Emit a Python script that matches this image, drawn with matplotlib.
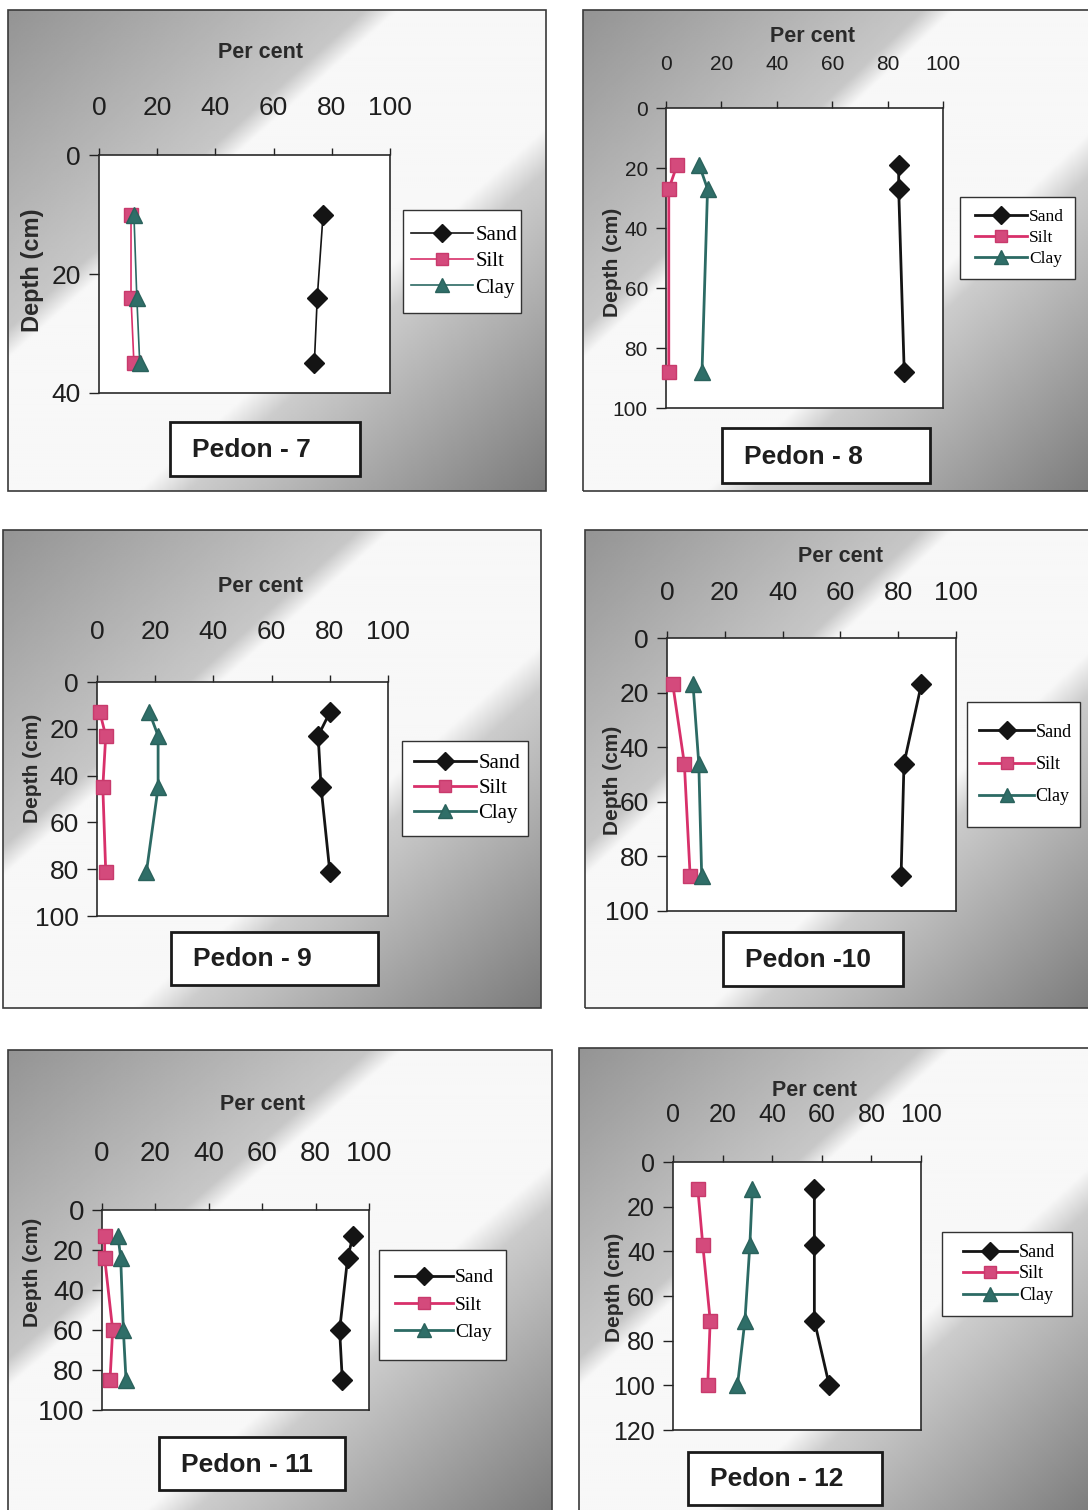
import matplotlib
matplotlib.use("Agg")
import matplotlib.pyplot as plt
import numpy as np
from matplotlib.patches import Rectangle
from matplotlib.lines import Line2D

# ---------------- data ----------------
series_names = ["Sand", "Silt", "Clay"]
x_ticks = [0, 20, 40, 60, 80, 100]

depth_p7 = [10, 24, 35]
sand_p7 = [77, 75, 74]
silt_p7 = [11, 11, 12]
clay_p7 = [12, 13, 14]

depth_p8 = [19, 27, 88]
sand_p8 = [84, 84, 86]
silt_p8 = [4, 1, 1]
clay_p8 = [12, 15, 13]

depth_p9 = [13, 23, 45, 81]
sand_p9 = [80, 76, 77, 80]
silt_p9 = [1, 3, 2, 3]
clay_p9 = [18, 21, 21, 17]

depth_p10 = [17, 46, 87]
sand_p10 = [88, 82, 81]
silt_p10 = [2, 6, 8]
clay_p10 = [9, 11, 12]

depth_p11 = [13, 24, 60, 85]
sand_p11 = [94, 92, 89, 90]
silt_p11 = [1, 1, 4, 3]
clay_p11 = [6, 7, 8, 9]

depth_p12 = [12, 37, 71, 100]
sand_p12 = [57, 57, 57, 63]
silt_p12 = [10, 12, 15, 14]
clay_p12 = [32, 31, 29, 26]

titles = ["Pedon - 7", "Pedon - 8", "Pedon - 9", "Pedon -10", "Pedon - 11", "Pedon - 12"]
depth_max = [40, 100, 100, 100, 100, 120]

# ---------------- layout ----------------
W, H = 1088, 1510
fig = plt.figure(figsize=(W / 100, H / 100), dpi=100)
fig.patch.set_facecolor("white")

SANS = ["Liberation Sans", "DejaVu Sans"]
SERIF = ["Liberation Serif", "DejaVu Serif"]


def frect(x0, y0, x1, y1):
    return [x0 / W, 1 - y1 / H, (x1 - x0) / W, (y1 - y0) / H]


def fpt(x, y):
    return (x / W, 1 - y / H)


panels = [
    dict(data=(depth_p7, sand_p7, silt_p7, clay_p7), frame=(8, 10, 546, 491), plot=(99, 155, 390, 393),
         pct=(260, 52), dep=(33, 270), leg=(403, 210, 521, 313), tbox=(170, 422, 360, 476),
         fs=19, xgap=28, lw=1.2, legfs=15, depfs=17),
    dict(data=(depth_p8, sand_p8, silt_p8, clay_p8), frame=(583, 10, 1095, 491), plot=(666, 108, 943, 408),
         pct=(812, 36), dep=(612, 262), leg=(960, 197, 1075, 279), tbox=(722, 428, 930, 483),
         fs=15, xgap=27, lw=2.0, legfs=12.5, depfs=15),
    dict(data=(depth_p9, sand_p9, silt_p9, clay_p9), frame=(3, 530, 541, 1008), plot=(97, 682, 388, 916),
         pct=(260, 587), dep=(33, 768), leg=(402, 741, 528, 836), tbox=(171, 932, 378, 985),
         fs=19, xgap=31, lw=2.0, legfs=15, depfs=15),
    dict(data=(depth_p10, sand_p10, silt_p10, clay_p10), frame=(585, 530, 1095, 1008), plot=(667, 638, 956, 911),
         pct=(840, 556), dep=(612, 780), leg=(967, 702, 1080, 827), tbox=(723, 932, 903, 986),
         fs=19, xgap=26, lw=2.0, legfs=13, depfs=15),
    dict(data=(depth_p11, sand_p11, silt_p11, clay_p11), frame=(8, 1050, 552, 1515), plot=(102, 1210, 369, 1410),
         pct=(262, 1105), dep=(33, 1272), leg=(379, 1250, 506, 1360), tbox=(159, 1437, 345, 1490),
         fs=20, xgap=36, lw=2.0, legfs=14, depfs=15),
    dict(data=(depth_p12, sand_p12, silt_p12, clay_p12), frame=(579, 1048, 1095, 1515), plot=(673, 1162, 921, 1430),
         pct=(815, 1090), dep=(615, 1287), leg=(942, 1232, 1072, 1316), tbox=(688, 1452, 882, 1505),
         fs=18, xgap=28, lw=2.0, legfs=13, depfs=15),
]

styles = [
    dict(color="#141414", marker="D", ms=10.5, mfc="#141414", mec="#141414"),
    dict(color="#d8306a", marker="s", ms=9.5, mfc="#d44a7c", mec="#c83a6c"),
    dict(color="#2c6a64", marker="^", ms=11.5, mfc="#2f6e68", mec="#2a625c"),
]


def gradient(w, h):
    yy, xx = np.mgrid[0:h, 0:w]
    u = (xx / w + yy / h) / 2.0
    su = [0.0, 0.33, 0.36, 0.62, 0.665, 1.0]
    sg = [0.58, 0.78, 0.97, 0.97, 0.80, 0.48]
    return np.interp(u, su, sg)


px2pt = 0.72

for i, p in enumerate(panels):
    fx0, fy0, fx1, fy1 = p["frame"]
    bg = fig.add_axes(frect(*p["frame"]), zorder=0)
    g = gradient(int((fx1 - fx0) / 2), int((fy1 - fy0) / 2))
    bg.imshow(g, extent=[0, 1, 0, 1], aspect="auto", cmap="gray", vmin=0, vmax=1,
              interpolation="bilinear", origin="upper")
    bg.set_xlim(0, 1)
    bg.set_ylim(0, 1)
    bg.set_axis_off()
    bg.add_patch(Rectangle((0, 0), 1, 1, transform=bg.transAxes, fill=False,
                           ec="#3a3a3a", lw=1.2, clip_on=False))

    ax = fig.add_axes(frect(*p["plot"]), zorder=1)
    ax.set_facecolor("white")
    depth, sand, silt, clay = p["data"]
    for vals, st, nm in zip((sand, silt, clay), styles, series_names):
        ax.plot(vals, depth, color=st["color"], marker=st["marker"], ms=st["ms"],
                mfc=st["mfc"], mec=st["mec"], lw=p["lw"], label=nm, clip_on=False, zorder=3)
    ax.set_xlim(0, 100)
    ax.set_ylim(depth_max[i], 0)
    ax.xaxis.tick_top()
    ax.set_xticks(x_ticks)
    ax.set_yticks(list(range(0, depth_max[i] + 1, 20)))
    ax.tick_params(axis="x", direction="out", length=5, width=1, colors="#222",
                   labelsize=p["fs"], pad=p["xgap"] * px2pt)
    ax.tick_params(axis="y", direction="out", length=7, width=1, colors="#222",
                   labelsize=p["fs"], pad=6)
    for lab in ax.get_xticklabels() + ax.get_yticklabels():
        lab.set_family(SANS)
        lab.set_color("#1e1e1e")
    for sp in ax.spines.values():
        sp.set_color("#2a2a2a")
        sp.set_linewidth(1.2)

    # axis titles
    fig.text(*fpt(*p["pct"]), "Per cent", ha="center", va="center", fontsize=15.5,
             fontweight="bold", family=SANS, color="#2a2a2a")
    fig.text(*fpt(*p["dep"]), "Depth (cm)", ha="center", va="center", rotation=90,
             fontsize=p["depfs"], fontweight="bold", family=SANS, color="#2a2a2a")

    # legend box
    lx0, ly0, lx1, ly1 = p["leg"]
    fig.patches.append(Rectangle(fpt(lx0, ly1), (lx1 - lx0) / W, (ly1 - ly0) / H,
                                 transform=fig.transFigure, fc="white", ec="#333", lw=1.0, zorder=2))
    handles = [Line2D([], [], color=st["color"], marker=st["marker"], ms=st["ms"] * 0.85,
                      mfc=st["mfc"], mec=st["mec"], lw=p["lw"]) for st in styles]
    legfs_px = p["legfs"] / px2pt
    spacing = ((ly1 - ly0) * 0.8 / 3 - legfs_px) / legfs_px
    leg = fig.legend(handles, series_names, loc="center",
                     bbox_to_anchor=fpt((lx0 + lx1) / 2 + 2, (ly0 + ly1) / 2),
                     frameon=False, prop=dict(family=SERIF, size=p["legfs"]),
                     handlelength=3.0, handletextpad=0.1, labelspacing=max(spacing, 0.25),
                     borderpad=0.2)
    leg.set_zorder(4)

    # title box
    tx0, ty0, tx1, ty1 = p["tbox"]
    fig.patches.append(Rectangle(fpt(tx0, ty1), (tx1 - tx0) / W, (ty1 - ty0) / H,
                                 transform=fig.transFigure, fc="white", ec="#1a1a1a", lw=2.0, zorder=2))
    fig.text(*fpt(tx0 + 22, (ty0 + ty1) / 2 + 1), titles[i], ha="left", va="center",
             fontsize=19, fontweight="bold", family=SANS, color="#1e1e1e", zorder=5)

fig.savefig("out.png", dpi=100, facecolor="white")
